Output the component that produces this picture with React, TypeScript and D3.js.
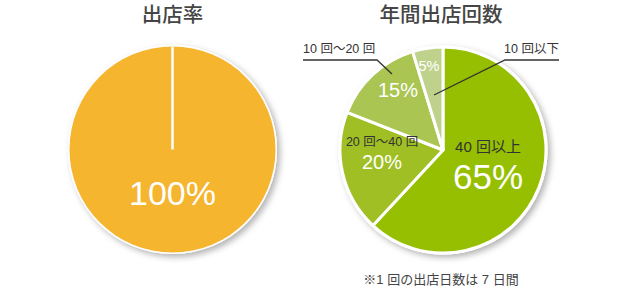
import React from "react";
import * as d3 from "d3";

const leftTitle = "出店率";
const leftValues = [100];
const leftLabels = ["100%"];

const rightTitle = "年間出店回数";
const categories = ["40 回以上", "20 回〜40 回", "10 回〜20 回", "10 回以下"];
const values = [65, 20, 15, 5];
const percentLabels = ["65%", "20%", "15%", "5%"];
const footnote = "※1 回の出店日数は 7 日間";

const sliceColors = ["#95bf00", "#9fbf24", "#aac552", "#bfd28c"];
const orange = "#f5b52e";

const W = 620, H = 292;
const R = 103;
const cL = { x: 172.5, y: 149.5 };
const cR = { x: 443, y: 150 };
const LATIN = "'Liberation Sans', Arial, 'Noto Sans CJK JP', sans-serif";
const CJK = "'Noto Sans CJK JP', sans-serif";

export default function App() {
  const pie = d3.pie<number>().sort(null).value((d) => d);
  const arc = d3.arc<d3.PieArcDatum<number>>().innerRadius(0).outerRadius(R);
  const arcsR = pie(values);
  const arcsL = pie(leftValues);
  const lineTop = d3.pointRadial(0, R);

  // label placement (relative to pie centre)
  const inLabel = [
    { cat: [45, 2], pct: [45, 39], catSize: 15, pctSize: 35 },
    { cat: [-61, -4], pct: [-61, 19], catSize: 12.5, pctSize: 20 },
    { cat: null, pct: [-45, -53], catSize: 0, pctSize: 20 },
    { cat: null, pct: [-14, -79], catSize: 0, pctSize: 14.5 },
  ];

  return (
    <svg width={W} height={H} style={{ position: "absolute", left: 0, top: 0, background: "#fff" }}>
      <defs>
        <filter id="sh" x="-20%" y="-20%" width="140%" height="140%">
          <feDropShadow dx="3" dy="3" stdDeviation="3" floodColor="#000" floodOpacity="0.3" />
        </filter>
      </defs>

      <text x={cL.x} y={22} textAnchor="middle" fontFamily={CJK} fontWeight={500} fontSize={20.5} fill="#454545">{leftTitle}</text>
      <text x={cR.x - 2} y={22} textAnchor="middle" fontFamily={CJK} fontWeight={500} fontSize={20.5} fill="#454545">{rightTitle}</text>

      {/* left pie */}
      <g transform={`translate(${cL.x},${cL.y})`}>
        <circle r={R + 1.5} fill="#fff" filter="url(#sh)" />
        {arcsL.map((a, i) => (
          <path key={i} d={arc(a) || ""} fill={orange} />
        ))}
        <line x1={0} y1={0} x2={lineTop[0]} y2={lineTop[1]} stroke="#fff" strokeWidth={2.5} />
        <text x={0} y={55} textAnchor="middle" fontFamily={LATIN} fontSize={34} fill="#fff">{leftLabels[0]}</text>
      </g>

      {/* right pie */}
      <g transform={`translate(${cR.x},${cR.y})`}>
        <circle r={R + 1.5} fill="#fff" filter="url(#sh)" />
        {arcsR.map((a, i) => (
          <path key={i} d={arc(a) || ""} fill={sliceColors[i]} stroke="#fff" strokeWidth={3} strokeLinejoin="round" />
        ))}
        {arcsR.map((a, i) => {
          const l = inLabel[i];
          return (
            <g key={i}>
              {l.cat && (
                <text x={l.cat[0]} y={l.cat[1]} textAnchor="middle" fontFamily={LATIN} fontSize={l.catSize} fill="#333">{categories[i]}</text>
              )}
              <text x={l.pct[0]} y={l.pct[1]} textAnchor="middle" fontFamily={LATIN} fontSize={l.pctSize} fill="#fff">{percentLabels[i]}</text>
            </g>
          );
        })}
      </g>

      {/* callouts */}
      <text x={303} y={53} fontFamily={LATIN} fontSize={12.5} fill="#333">{categories[2]}</text>
      <polyline points="303,60 377,60 392,74" fill="none" stroke="#333" strokeWidth={1.3} />
      <text x={504} y={53} fontFamily={LATIN} fontSize={12.5} fill="#333">{categories[3]}</text>
      <polyline points="559,60 505,60 434,95" fill="none" stroke="#333" strokeWidth={1.3} />

      <text x={cR.x - 2} y={284} textAnchor="middle" fontFamily={LATIN} fontSize={13} fill="#444">{footnote}</text>
    </svg>
  );
}
